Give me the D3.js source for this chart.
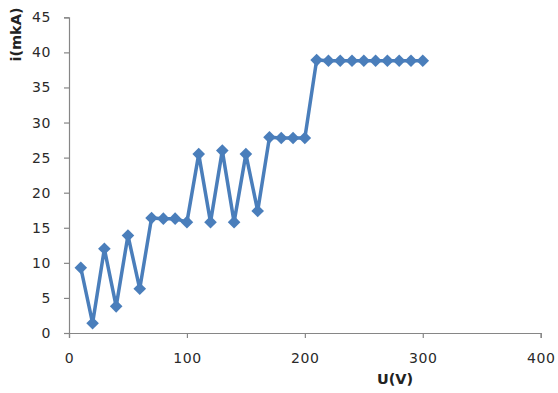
<!DOCTYPE html>
<html><head><meta charset="utf-8">
<script src="https://cdn.jsdelivr.net/npm/d3@7"></script>
<style>body{margin:0;background:#fff}svg{display:block}</style>
</head><body>
<script>
const voltages = [10,20,30,40,50,60,70,80,90,100,110,120,130,140,150,160,170,180,190,200,210,220,230,240,250,260,270,280,290,300];
const currents = [9.3,1.4,12.0,3.8,13.9,6.3,16.4,16.3,16.3,15.8,25.5,15.8,26.0,15.8,25.5,17.4,27.9,27.8,27.8,27.8,38.9,38.8,38.8,38.8,38.8,38.8,38.8,38.8,38.8,38.8];
const xTicks = [0,100,200,300,400];
const yTicks = [0,5,10,15,20,25,30,35,40,45];
const xLabel = "U(V)";
const yLabel = "i(mkA)";

const W = 558, H = 393;
const svg = d3.select("body").append("svg").attr("width", W).attr("height", H);
const x = d3.scaleLinear().domain([0,400]).range([69, 540.7]);
const y = d3.scaleLinear().domain([0,45]).range([333, 17.3]);
const axisColor = "#868686";
const font = "'DejaVu Sans', Verdana, sans-serif";

const gx = svg.append("g").attr("transform", `translate(0,${y(0)})`)
  .call(d3.axisBottom(x).tickValues(xTicks).tickSize(5).tickPadding(15));
const gy = svg.append("g").attr("transform", `translate(${x(0)},0)`)
  .call(d3.axisLeft(y).tickValues(yTicks).tickSize(5).tickPadding(13));
[gx, gy].forEach(g => {
  g.select(".domain").attr("stroke", axisColor).attr("stroke-width", 1.2);
  g.selectAll(".tick line").attr("stroke", axisColor).attr("stroke-width", 1.2);
  g.selectAll(".tick text").attr("fill", "#2a2a2a").style("font-family", font)
    .style("font-size", "14px").style("letter-spacing", "0.6px");
});

const data = voltages.map((v,i) => [v, currents[i]]);
const color = "#4a7ebb";
svg.append("path").datum(data)
  .attr("fill", "none").attr("stroke", color).attr("stroke-width", 3.5)
  .attr("stroke-linejoin", "round")
  .attr("d", d3.line().x(d => x(d[0])).y(d => y(d[1])));
svg.append("g").selectAll("path").data(data).join("path")
  .attr("transform", d => `translate(${x(d[0])},${y(d[1])})`)
  .attr("d", "M0,-6.3L6.3,0L0,6.3L-6.3,0Z")
  .attr("fill", color);

svg.append("text").attr("x", 395).attr("y", 384).attr("text-anchor", "middle")
  .style("font-family", font).style("font-size", "14.5px").style("font-weight", "bold")
  .attr("fill", "#222").text(xLabel);
svg.append("text").attr("transform", "translate(21,34.5) rotate(-90)").attr("text-anchor", "middle")
  .style("font-family", font).style("font-size", "14.5px").style("font-weight", "bold")
  .attr("fill", "#222").text(yLabel);
</script>
</body></html>
